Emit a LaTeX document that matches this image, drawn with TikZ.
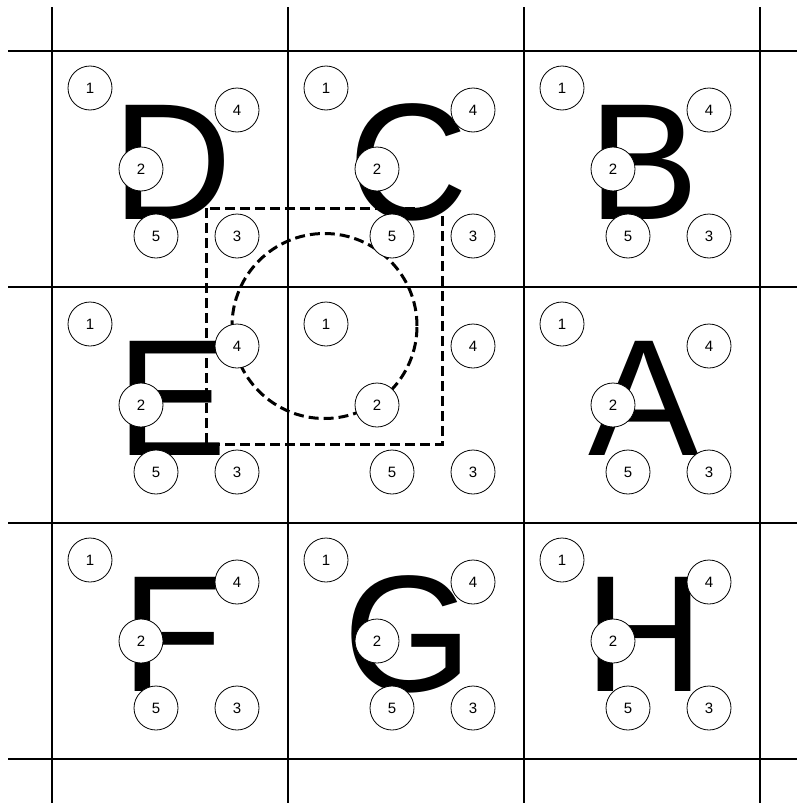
\documentclass[tikz,border=0pt]{standalone}
\usepackage{fontspec}
\setmainfont{Liberation Sans}
\begin{document}
\begin{tikzpicture}[x=1pt,y=-1pt,
  gridline/.style={line width=2pt,black},
  bigletter/.style={inner sep=0pt,anchor=base,font=\fontsize{166}{166}\selectfont},
  numcirc/.style={circle,draw,line width=0.8pt,fill=white,minimum size=44pt,inner sep=0pt,font=\fontsize{15}{15}\selectfont},
  dashline/.style={line width=3pt,dash pattern=on 10pt off 5pt}]
\useasboundingbox (0,0) rectangle (797,803);
% grid
\foreach \i in {0,1,2,3} {
  \draw[gridline] (52+236*\i,7) -- (52+236*\i,803);
  \draw[gridline] (8,51+236*\i) -- (804,51+236*\i);
}
% letters
\foreach \L/\c/\r in {D/0/0, C/1/0, B/2/0, E/0/1, A/2/1, F/0/2, G/1/2, H/2/2} {
  \node[bigletter] (\L) at (52+236*\c+120, 51+236*\r+168) {\L};
}
% dashed square and circle
\draw[dashline] (206,208) rectangle (442,444);
\draw[dashline] (324.5,326) circle[radius=92.5pt];
% numbered circles
\foreach \L/\c/\r in {D/0/0, C/1/0, B/2/0, E/0/1, O/1/1, A/2/1, F/0/2, G/1/2, H/2/2} {
  \node[numcirc] (\L1) at (52+236*\c+38, 51+236*\r+37) {1};
  \node[numcirc] (\L4) at (52+236*\c+185, 51+236*\r+59) {4};
  \node[numcirc] (\L2) at (52+236*\c+89, 51+236*\r+118) {2};
  \node[numcirc] (\L5) at (52+236*\c+104, 51+236*\r+185) {5};
  \node[numcirc] (\L3) at (52+236*\c+185, 51+236*\r+185) {3};
}
\end{tikzpicture}
\end{document}
